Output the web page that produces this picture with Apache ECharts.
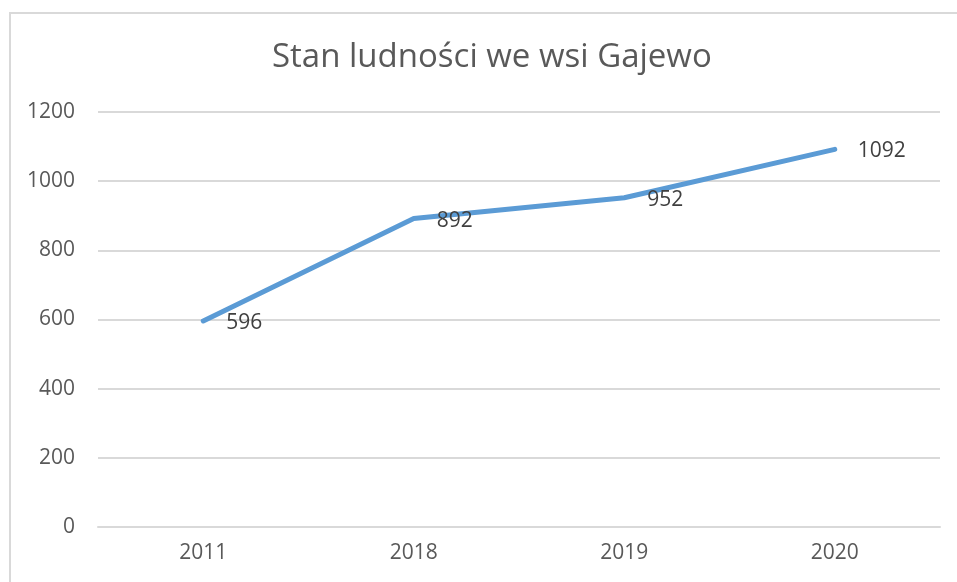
<!DOCTYPE html>
<html>
<head>
<meta charset="UTF-8">
<title>Stan ludności we wsi Gajewo</title>
<script src="https://cdn.jsdelivr.net/npm/echarts@6/dist/echarts.min.js"></script>
<style>
  html, body { margin: 0; padding: 0; background: #fff; }
  #main { width: 957px; height: 582px; }
</style>
</head>
<body>
<div id="main"></div>
<script>
// dane wykresu
var years = ['2011', '2018', '2019', '2020'];
var population = [596, 892, 952, 1092];
var yTicks = [0, 200, 400, 600, 800, 1000, 1200];

var chart = echarts.init(document.getElementById('main'));
var font = '"Open Sans", "DejaVu Sans", sans-serif';

var option = {
  backgroundColor: '#fff',
  animation: false,
  title: {
    text: 'Stan ludności we wsi Gajewo',
    left: 267,
    top: 36,
    textStyle: { fontFamily: font, fontSize: 33, fontWeight: 'normal', color: '#595959' }
  },
  graphic: [{
    type: 'rect',
    silent: true,
    shape: { x: 10, y: 13, width: 1000, height: 620 },
    style: { fill: 'none', stroke: '#d9d9d9', lineWidth: 2 }
  }],
  grid: { left: 98, right: 17, top: 112, bottom: 55 },
  xAxis: {
    type: 'category',
    data: years,
    boundaryGap: true,
    axisLine: { show: true, lineStyle: { color: '#d9d9d9', width: 2 } },
    axisTick: { show: false },
    axisLabel: { color: '#595959', fontFamily: font, fontSize: 21, margin: 16 }
  },
  yAxis: {
    type: 'value',
    min: yTicks[0],
    max: yTicks[yTicks.length - 1],
    interval: 200,
    axisLine: { show: false },
    axisTick: { show: false },
    splitLine: { lineStyle: { color: '#d9d9d9', width: 2 } },
    axisLabel: {
      color: '#595959', fontFamily: font, fontSize: 21, margin: 23,
      formatter: function (v) { return String(v); }
    }
  },
  series: [{
    type: 'line',
    data: population,
    symbol: 'circle',
    symbolSize: 2,
    showSymbol: true,
    itemStyle: { color: 'rgba(91,155,213,0)', borderWidth: 0 },
    lineStyle: { color: '#5b9bd5', width: 5, cap: 'round', join: 'round' },
    label: {
      show: true,
      position: 'right',
      distance: 22,
      offset: [0, 2],
      color: '#404040',
      fontFamily: font,
      fontSize: 21
    }
  }]
};
chart.setOption(option);
</script>
</body>
</html>
